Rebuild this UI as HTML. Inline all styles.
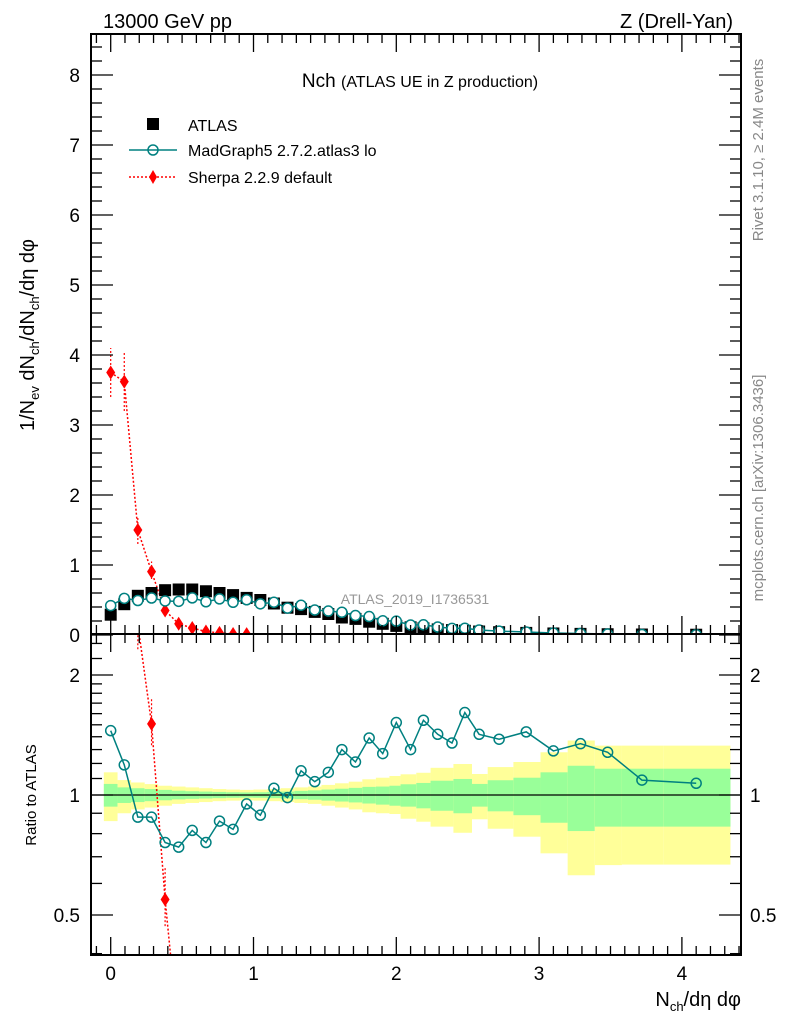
<!DOCTYPE html>
<html><head><meta charset="utf-8">
<style>
html,body{margin:0;padding:0;background:#fff;width:786px;height:1024px;overflow:hidden;}
svg{display:block;font-family:"Liberation Sans",sans-serif;}
</style></head>
<body>
<svg id="chart" width="786" height="1024" viewBox="0 0 786 1024">
<defs>
<clipPath id="mainClip"><rect x="91" y="34" width="650" height="600"/></clipPath>
<clipPath id="ratioClip"><rect x="91" y="634" width="650" height="321"/></clipPath>
</defs>
<g id="bands" clip-path="url(#ratioClip)"></g>
<g id="marks"></g>
<g id="axes"></g>
<text x="103" y="28" font-size="20">13000 GeV pp</text>
<text x="733" y="28" font-size="20" text-anchor="end">Z (Drell-Yan)</text>
<text x="420" y="87" font-size="19" text-anchor="middle">Nch <tspan font-size="16">(ATLAS UE in Z production)</tspan></text>
<text x="415" y="604" font-size="14" fill="#999" text-anchor="middle">ATLAS_2019_I1736531</text>
<g>
<rect x="147" y="118" width="12" height="12" fill="#000"/>
<text x="188" y="131" font-size="16">ATLAS</text>
<line x1="129" y1="150" x2="177" y2="150" stroke="#008080" stroke-width="1.5"/>
<circle cx="153" cy="150" r="5" fill="none" stroke="#008080" stroke-width="1.5"/>
<text x="188" y="156" font-size="16">MadGraph5 2.7.2.atlas3 lo</text>
<line x1="129" y1="177" x2="177" y2="177" stroke="#f00" stroke-width="1.5" stroke-dasharray="2,2"/>
<path d="M153 170 L157 177 L153 184 L149 177 Z" fill="#f00"/>
<text x="188" y="183" font-size="16">Sherpa 2.2.9 default</text>
</g>
<text transform="translate(34,335) rotate(-90)" font-size="20" text-anchor="middle">1/N<tspan font-size="13" dy="5">ev</tspan><tspan dy="-5"> dN</tspan><tspan font-size="13" dy="5">ch</tspan><tspan dy="-5">/dN</tspan><tspan font-size="13" dy="5">ch</tspan><tspan dy="-5">/dη dφ</tspan></text>
<text transform="translate(36,795) rotate(-90)" font-size="15" text-anchor="middle">Ratio to ATLAS</text>
<text x="741" y="1006" font-size="20" text-anchor="end">N<tspan font-size="13" dy="5">ch</tspan><tspan dy="-5">/dη dφ</tspan></text>
<text transform="translate(763,150) rotate(-90)" font-size="15" fill="#888" text-anchor="middle">Rivet 3.1.10, ≥ 2.4M events</text>
<text transform="translate(763,488) rotate(-90)" font-size="15" fill="#888" text-anchor="middle">mcplots.cern.ch [arXiv:1306.3436]</text>
</svg>
<script>
// ---- data ----
const xPts = [0,0.095,0.19,0.286,0.381,0.476,0.571,0.667,0.762,0.857,0.952,1.048,1.143,1.238,1.333,1.429,1.524,1.619,1.714,1.81,1.905,2.0,2.1,2.19,2.29,2.39,2.48,2.58,2.72,2.91,3.1,3.29,3.48,3.72,4.1];
const atlasVals = [0.29,0.44,0.56,0.60,0.64,0.65,0.65,0.625,0.60,0.57,0.53,0.50,0.45,0.39,0.37,0.33,0.30,0.25,0.23,0.19,0.16,0.13,0.11,0.095,0.08,0.07,0.06,0.05,0.04,0.03,0.022,0.016,0.011,0.007,0.004];
const mgRatio = [1.45,1.19,0.88,0.88,0.76,0.74,0.815,0.76,0.86,0.82,0.95,0.89,1.04,0.985,1.15,1.08,1.14,1.30,1.21,1.39,1.27,1.52,1.30,1.54,1.42,1.35,1.61,1.42,1.38,1.44,1.29,1.345,1.28,1.09,1.07];
const sherpaX = [0,0.095,0.19,0.286,0.381,0.476,0.571,0.667,0.762,0.857,0.952];
const sherpaVals = [3.75,3.62,1.50,0.905,0.35,0.16,0.10,0.05,0.03,0.015,0.012];
const sherpaErrLo = [3.4,3.2,1.3,0.8,0.3,0.14,0.08,0.04,0.02,0.01,0.008];
const sherpaErrHi = [4.1,4.05,1.7,1.05,0.42,0.19,0.12,0.06,0.04,0.02,0.016];
const bandEdges = [-0.048,0.048,0.143,0.238,0.333,0.429,0.524,0.619,0.714,0.81,0.905,1.0,1.095,1.19,1.286,1.381,1.476,1.571,1.667,1.762,1.857,1.952,2.03,2.14,2.24,2.40,2.53,2.64,2.82,3.01,3.20,3.39,3.58,3.87,4.34];
const yelUp = [1.14,1.09,1.075,1.065,1.055,1.05,1.045,1.04,1.035,1.032,1.03,1.032,1.035,1.04,1.045,1.05,1.06,1.07,1.08,1.095,1.105,1.116,1.127,1.137,1.17,1.196,1.129,1.175,1.21,1.28,1.37,1.33,1.33,1.33];
const yelDn = [0.86,0.90,0.92,0.93,0.94,0.95,0.955,0.96,0.965,0.968,0.97,0.968,0.965,0.96,0.955,0.95,0.94,0.93,0.92,0.905,0.90,0.896,0.872,0.857,0.833,0.804,0.869,0.823,0.786,0.714,0.629,0.667,0.669,0.669];
const grnUp = [1.066,1.045,1.04,1.035,1.03,1.025,1.022,1.02,1.018,1.016,1.015,1.016,1.018,1.02,1.024,1.027,1.032,1.037,1.042,1.048,1.05,1.055,1.064,1.072,1.086,1.097,1.066,1.089,1.105,1.14,1.184,1.164,1.164,1.164];
const grnDn = [0.935,0.955,0.96,0.965,0.97,0.975,0.978,0.98,0.982,0.984,0.985,0.984,0.982,0.98,0.976,0.973,0.968,0.963,0.958,0.952,0.946,0.94,0.935,0.926,0.913,0.90,0.935,0.91,0.89,0.852,0.812,0.833,0.833,0.833];
const mainTicks = [0,1,2,3,4,5,6,7,8];
const xTicks = [0,1,2,3,4];
const ratioTicks = [0.5,1,2];

// ---- axes ----
const X = v => 110.7 + v*142.8;
const Y = v => 635 - v*70;
const R = r => 795 - 120*Math.log2(r);
const NS = 'http://www.w3.org/2000/svg';
function mk(tag, attrs, parent){const e=document.createElementNS(NS,tag);for(const k in attrs)e.setAttribute(k,attrs[k]);parent.appendChild(e);return e;}
const bands = document.getElementById('bands');
const marks = document.getElementById('marks');
const axes = document.getElementById('axes');

// bands
for(let i=0;i<yelUp.length;i++){
  const x0=X(bandEdges[i]), x1=X(bandEdges[i+1]);
  const y=mk('rect',{x:x0,y:R(yelUp[i]),width:x1-x0,height:R(yelDn[i])-R(yelUp[i]),fill:'#ffff99'},bands);
  
  
  const g=mk('rect',{x:x0,y:R(grnUp[i]),width:x1-x0,height:R(grnDn[i])-R(grnUp[i]),fill:'#99ff99'},bands);
  
  
}
mk('line',{x1:91,y1:R(1),x2:741,y2:R(1),stroke:'#000','stroke-width':1.3},bands);

// main panel
const mainG = mk('g',{'clip-path':'url(#mainClip)'},marks);
const ratioG = mk('g',{'clip-path':'url(#ratioClip)'},marks);
// sherpa main
let sp='';
sherpaX.forEach((x,i)=>{sp+=(i?'L':'M')+X(x)+' '+Y(sherpaVals[i]);});
mk('path',{d:sp,fill:'none',stroke:'#f00','stroke-width':1.5,'stroke-dasharray':'2,2'},mainG);
sherpaX.forEach((x,i)=>{
  const cx=X(x), cy=Y(sherpaVals[i]);
  mk('line',{x1:cx,y1:Y(sherpaErrLo[i]),x2:cx,y2:Y(sherpaErrHi[i]),stroke:'#f00','stroke-width':1.2,'stroke-dasharray':'2,2'},mainG);
  const d=mk('path',{d:`M${cx} ${cy-7}L${cx+4.5} ${cy}L${cx} ${cy+7}L${cx-4.5} ${cy}Z`,fill:'#f00'},mainG);
  
  
});
// atlas
xPts.forEach((x,i)=>{
  const s=mk('rect',{x:X(x)-6,y:Y(atlasVals[i])-6,width:12,height:12,fill:'#000'},mainG);
  
  
});
// madgraph main
let mp='';
xPts.forEach((x,i)=>{mp+=(i?'L':'M')+X(x)+' '+Y(atlasVals[i]*mgRatio[i]);});
mk('path',{d:mp,fill:'none',stroke:'#008080','stroke-width':1.5},mainG);
xPts.forEach((x,i)=>{
  const c=mk('circle',{cx:X(x),cy:Y(atlasVals[i]*mgRatio[i]),r:5,fill:'#fff',stroke:'#008080','stroke-width':1.5},mainG);
  
  
});
// ratio panel: sherpa
let srp='';
sherpaX.forEach((x,i)=>{srp+=(i?'L':'M')+X(x)+' '+R(sherpaVals[i]/atlasVals[i]);});
mk('path',{d:srp,fill:'none',stroke:'#f00','stroke-width':1.5,'stroke-dasharray':'2,2'},ratioG);
sherpaX.forEach((x,i)=>{
  const cx=X(x), cy=R(sherpaVals[i]/atlasVals[i]);
  mk('line',{x1:cx,y1:R(sherpaErrLo[i]/atlasVals[i]),x2:cx,y2:R(sherpaErrHi[i]/atlasVals[i]),stroke:'#f00','stroke-width':1.2,'stroke-dasharray':'2,2'},ratioG);
  const d=mk('path',{d:`M${cx} ${cy-7}L${cx+4.5} ${cy}L${cx} ${cy+7}L${cx-4.5} ${cy}Z`,fill:'#f00'},ratioG);
  
  
});
// ratio: madgraph
let mrp='';
xPts.forEach((x,i)=>{mrp+=(i?'L':'M')+X(x)+' '+R(mgRatio[i]);});
mk('path',{d:mrp,fill:'none',stroke:'#008080','stroke-width':1.5},ratioG);
xPts.forEach((x,i)=>{
  const c=mk('circle',{cx:X(x),cy:R(mgRatio[i]),r:5,fill:'none',stroke:'#008080','stroke-width':1.5},ratioG);
  
  
});

// frames
mk('rect',{x:91,y:34,width:650,height:600,fill:'none',stroke:'#000','stroke-width':2},axes);
mk('rect',{x:91,y:634,width:650,height:321,fill:'none',stroke:'#000','stroke-width':2},axes);
// x ticks
for(let v=-0.1; v<=4.41; v+=0.1){
  const vv=Math.round(v*10)/10, major=Math.abs(vv-Math.round(vv))<1e-6;
  const L=major?18:9, x=X(vv);
  if(x<92||x>740) continue;
  [[34,1],[634,-1],[634,1],[955,-1]].forEach(([y0,dir])=>{
    mk('line',{x1:x,y1:y0,x2:x,y2:y0+dir*L,stroke:'#000','stroke-width':1.3},axes);
  });
}
xTicks.forEach(v=>{
  const t=mk('text',{x:X(v),y:980,'font-size':19,'text-anchor':'middle'},axes);
  t.textContent=v;
  
  
});
// main y ticks
for(let v=0; v<=8.6; v+=0.2){
  const vv=Math.round(v*10)/10, major=Math.abs(vv-Math.round(vv))<1e-6;
  const L=major?22:11, y=Y(vv);
  if(y<35) continue;
  mk('line',{x1:91,y1:y,x2:91+L,y2:y,stroke:'#000','stroke-width':1.3},axes);
  mk('line',{x1:741,y1:y,x2:741-L,y2:y,stroke:'#000','stroke-width':1.3},axes);
}
mainTicks.forEach(v=>{
  const t=mk('text',{x:80,y:Y(v)+7,'font-size':19,'text-anchor':'end'},axes);
  t.textContent=v;
  
  
});
// ratio y ticks
[0.4,0.5,0.6,0.7,0.8,0.9,1,2].forEach(v=>{
  const major=(v===0.5||v===1||v===2), L=major?22:11, y=R(v);
  if(y>954||y<635) return;
  mk('line',{x1:91,y1:y,x2:91+L,y2:y,stroke:'#000','stroke-width':1.3},axes);
  mk('line',{x1:741,y1:y,x2:741-L,y2:y,stroke:'#000','stroke-width':1.3},axes);
});
[1.1,1.2,1.3,1.4,1.5,1.6,1.7,1.8,1.9,2.2,2.4].forEach(v=>{
  const y=R(v);
  mk('line',{x1:91,y1:y,x2:102,y2:y,stroke:'#000','stroke-width':1.3},axes);
  mk('line',{x1:741,y1:y,x2:730,y2:y,stroke:'#000','stroke-width':1.3},axes);
});
ratioTicks.forEach(v=>{
  const t=mk('text',{x:80,y:R(v)+7,'font-size':19,'text-anchor':'end'},axes);
  t.textContent=v;
  
  
  const t2=mk('text',{x:750,y:R(v)+7,'font-size':19,'text-anchor':'start'},axes);
  t2.textContent=v;
  
  
});
</script>
</body></html>
